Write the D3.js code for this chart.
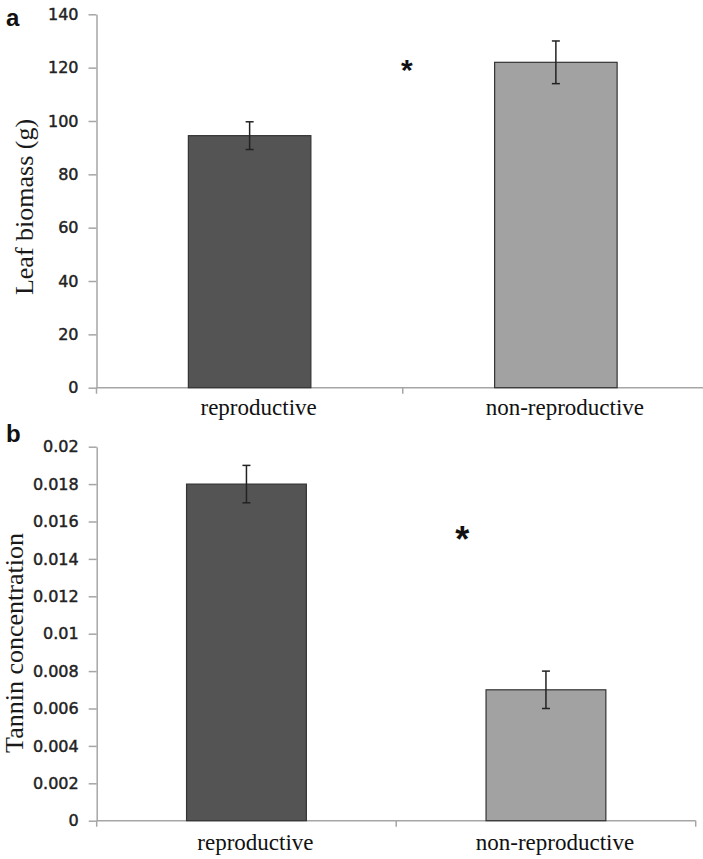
<!DOCTYPE html>
<html>
<head>
<meta charset="utf-8">
<script src="https://cdn.jsdelivr.net/npm/d3@7"></script>
<style>
  html, body { margin: 0; padding: 0; background: #fff; }
  svg { display: block; }
</style>
</head>
<body>
<svg id="chart" width="703" height="859"></svg>
<script>
// ---- data ----
const categories = ["reproductive", "non-reproductive"];
const biomassMean = [94.5, 122];
const biomassErr = [5.2, 8];
const tanninMean = [0.018, 0.007];
const tanninErr = [0.001, 0.001];
const biomassTicks = [0, 20, 40, 60, 80, 100, 120, 140];
const biomassTickLabels = ["0", "20", "40", "60", "80", "100", "120", "140"];
const tanninTicks = [0, 0.002, 0.004, 0.006, 0.008, 0.01, 0.012, 0.014, 0.016, 0.018, 0.02];
const tanninTickLabels = ["0", "0.002", "0.004", "0.006", "0.008", "0.01", "0.012", "0.014", "0.016", "0.018", "0.02"];
const barColors = ["#545454", "#a2a2a2"];

const svg = d3.select("#chart");

function panel(cfg) {
  const g = svg.append("g");
  const x = d3.scaleBand().domain(categories).range(cfg.xRange).paddingInner(0).paddingOuter(0);
  const y = d3.scaleLinear().domain(cfg.yDomain).range(cfg.yRange);
  const bw = x.bandwidth() / 2.5;
  const axisColor = "#a6a6a6";

  // y axis
  const yAxis = d3.axisLeft(y).tickValues(cfg.ticks)
    .tickFormat((d, i) => cfg.tickLabels[i]).tickSize(8).tickSizeOuter(0).tickPadding(10);
  const ya = g.append("g").attr("transform", `translate(${cfg.xRange[0]},0)`).call(yAxis);
  ya.select(".domain").attr("stroke", axisColor).attr("stroke-width", 1.5);
  ya.selectAll(".tick line").attr("stroke", axisColor).attr("stroke-width", 1.5);
  ya.selectAll(".tick text").attr("font-family", "DejaVu Sans").attr("font-size", 16)
    .attr("fill", "#222").attr("stroke", "#222").attr("stroke-width", 0.45);

  // x axis line
  const y0 = y(0);
  g.append("line").attr("x1", cfg.xRange[0]).attr("x2", cfg.xRange[1])
    .attr("y1", y0).attr("y2", y0).attr("stroke", axisColor).attr("stroke-width", 1.5);
  const bounds = [x(categories[0])].concat(categories.map(c => x(c) + x.bandwidth()));
  g.selectAll("line.xtick").data(bounds).join("line").attr("class", "xtick")
    .attr("x1", d => d).attr("x2", d => d).attr("y1", y0).attr("y2", y0 + 6)
    .attr("stroke", axisColor).attr("stroke-width", 1.5);

  // bars
  g.selectAll("rect.bar").data(cfg.means).join("rect").attr("class", "bar")
    .attr("x", (d, i) => x(categories[i]) + x.bandwidth() / 2 - bw / 2)
    .attr("width", bw)
    .attr("y", d => y(d))
    .attr("height", d => y0 - y(d))
    .attr("fill", (d, i) => barColors[i])
    .attr("stroke", "#333").attr("stroke-width", 1.2);

  // error bars
  const eb = g.selectAll("g.err").data(cfg.means).join("g").attr("class", "err");
  eb.append("line")
    .attr("x1", (d, i) => x(categories[i]) + x.bandwidth() / 2)
    .attr("x2", (d, i) => x(categories[i]) + x.bandwidth() / 2)
    .attr("y1", (d, i) => y(d + cfg.errs[i])).attr("y2", (d, i) => y(d - cfg.errs[i]))
    .attr("stroke", "#222").attr("stroke-width", 1.5);
  [1, -1].forEach(s => {
    eb.append("line")
      .attr("x1", (d, i) => x(categories[i]) + x.bandwidth() / 2 - 4)
      .attr("x2", (d, i) => x(categories[i]) + x.bandwidth() / 2 + 4)
      .attr("y1", (d, i) => y(d + s * cfg.errs[i])).attr("y2", (d, i) => y(d + s * cfg.errs[i]))
      .attr("stroke", "#222").attr("stroke-width", 1.5);
  });

  // category labels
  g.selectAll("text.cat").data(categories).join("text").attr("class", "cat")
    .attr("x", d => x(d) + x.bandwidth() / 2 + 9)
    .attr("y", y0 + cfg.catOffset)
    .attr("text-anchor", "middle")
    .attr("font-family", "Liberation Serif").attr("font-size", 23).attr("fill", "#111")
    .text(d => d);

  // y title
  g.append("text")
    .attr("transform", `translate(${cfg.titleX},${cfg.titleY}) rotate(-90)`)
    .attr("text-anchor", "middle")
    .attr("font-family", "Liberation Serif").attr("font-size", 26).attr("fill", "#1a1a1a")
    .text(cfg.title);

  // panel letter
  g.append("text").attr("x", 6).attr("y", cfg.letterY)
    .attr("font-family", "Liberation Sans").attr("font-weight", "bold").attr("font-size", 24)
    .attr("fill", "#111").text(cfg.letter);

  // significance asterisk
  g.append("text")
    .attr("x", bounds[1] + cfg.starDx)
    .attr("y", y(cfg.starValue))
    .attr("text-anchor", "middle")
    .attr("font-family", "Liberation Sans").attr("font-weight", "bold")
    .attr("font-size", cfg.starSize).attr("fill", "#111")
    .attr("dy", cfg.starSize * 0.58)
    .text("*");
}

panel({
  xRange: [96.5, 709], yDomain: [0, 140], yRange: [387.7, 14.3],
  ticks: biomassTicks, tickLabels: biomassTickLabels,
  means: biomassMean, errs: biomassErr,
  title: "Leaf biomass (g)", titleX: 33, titleY: 207,
  letter: "a", letterY: 26, catOffset: 27,
  starValue: 122, starDx: 4, starSize: 30
});

panel({
  xRange: [96.7, 695.7], yDomain: [0, 0.02], yRange: [820.7, 446.7],
  ticks: tanninTicks, tickLabels: tanninTickLabels,
  means: tanninMean, errs: tanninErr,
  title: "Tannin concentration", titleX: 23, titleY: 643,
  letter: "b", letterY: 441.7, catOffset: 29,
  starValue: 0.0155, starDx: 66, starSize: 36
});
</script>
</body>
</html>
